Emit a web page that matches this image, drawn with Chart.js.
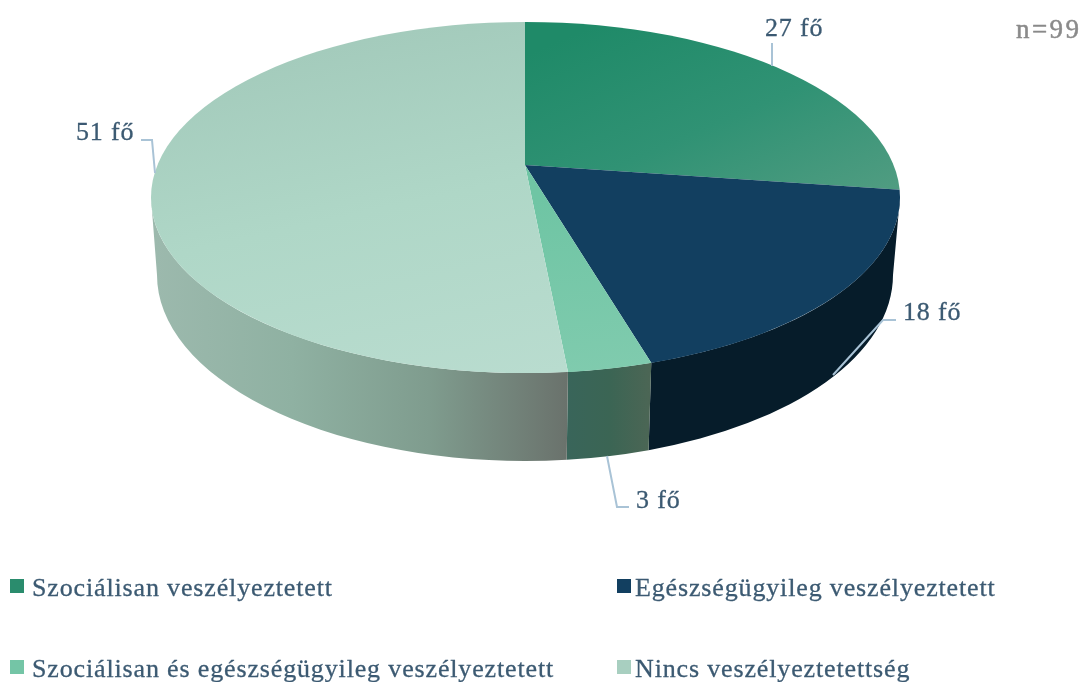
<!DOCTYPE html>
<html><head><meta charset="utf-8">
<style>html,body{margin:0;padding:0;background:#fff}canvas{display:block}</style>
<script src="https://cdn.jsdelivr.net/npm/chart.js@4"></script>
</head><body><canvas id="c" width="1084" height="682"></canvas>
<script>
const categories = ["Szociálisan veszélyeztetett","Egészségügyileg veszélyeztetett","Szociálisan és egészségügyileg veszélyeztetett","Nincs veszélyeztetettség"];
const values = [27,18,3,51];
const unit = "fő";
const sampleNote = "n=99";
const legendColors = ["#2a8c6d","#123f60","#74c5a6","#a8cfc0"];

// geometry of the tilted pie
const KX = 3.2, KY = KX*0.46;
const TOP = {x:525.5,y:197.5,rx:374.5,ry:175.5};
const BOT = {x:525,y:275,rx:368,ry:186};
const TEXT = "#3c5a72";
const FONT = '26px "Liberation Serif"';
const labelPos = [[765,36],[903,320],[636,508],[76,140]];
const leaders = [[[772,43],[772,66]],[[833,375],[883,320],[896,320]],[[607,456],[617,507],[629,507]],[[141,140],[152,140],[155,173]]];
const legendPos = [[10,579],[617,579],[10,660],[617,660]];
const APEX = {x:525,y:165};

function grad(chart,x0,y0,x1,y1,stops){
  const f=p=>[APEX.x+(p[0]-APEX.x)/KX,APEX.y+(p[1]-APEX.y)/KY];
  const a=f([x0,y0]),b=f([x1,y1]);
  const g=chart.ctx.createLinearGradient(a[0],a[1],b[0],b[1]);
  stops.forEach((c,i)=>g.addColorStop(i/(stops.length-1),c));
  return g;
}
const faceFills=[
  c=>grad(c,560,40,890,200,["#1f8a68","#309274","#529d82"]),
  c=>"#123f60",
  c=>grad(c,540,200,640,370,["#6fc5a4","#80cbae"]),
  c=>grad(c,230,40,570,370,["#a2c9ba","#afd7c7","#b9dccf"])
];
function wallFill(ctx,i){
  if(i===1) return "#061c2a";
  const mk=(x0,x1,st)=>{const g=ctx.createLinearGradient(x0,0,x1,0);st.forEach((c,k)=>g.addColorStop(k/(st.length-1),c));return g;};
  if(i===2) return mk(567,651,["#39655a","#3b6554","#4c6655"]);
  return mk(155,567,["#9cb9ad","#8fb1a2","#7f9c8e","#6a726c"]);
}
function theta(a,el){
  const dx=Math.cos(a)*KX, dy=Math.sin(a)*KY, ox=(el.x-TOP.x)/TOP.rx, oy=(el.y-TOP.y)/TOP.ry;
  const ax=dx/TOP.rx, ay=dy/TOP.ry;
  const A=ax*ax+ay*ay, B=2*(ox*ax+oy*ay), C=ox*ox+oy*oy-1;
  const t=(-B+Math.sqrt(B*B-4*A*C))/(2*A);
  return Math.atan2(oy+ay*t,ox+ax*t);
}
function putText(ctx,s,x,y,w){
  ctx.fillText(s,x,y);
  ctx.lineWidth=w;ctx.strokeStyle=ctx.fillStyle;ctx.strokeText(s,x,y);
}
const pie3d={
  id:"pie3d",
  beforeDatasetsDraw(chart){
    const ctx=chart.ctx, arcs=chart.getDatasetMeta(0).data;
    arcs.forEach((el,i)=>{
      let t0=theta(el.startAngle,el), t1=theta(el.endAngle,el);
      if(t1<t0) t1+=2*Math.PI;
      const s=Math.max(t0,0), e=Math.min(t1,Math.PI);
      if(s>=e) return;
      ctx.beginPath();
      ctx.ellipse(TOP.x,TOP.y,TOP.rx,TOP.ry,0,s,e,false);
      ctx.ellipse(BOT.x,BOT.y,BOT.rx,BOT.ry,0,e,s,true);
      ctx.closePath();
      ctx.fillStyle=wallFill(ctx,i);
      ctx.fill();
    });
    ctx.save();
    ctx.beginPath();
    ctx.ellipse(TOP.x,TOP.y,TOP.rx,TOP.ry,0,0,Math.PI*2);
    ctx.clip();
    const el=arcs[0];
    ctx.translate(el.x,el.y);ctx.scale(KX,KY);ctx.translate(-el.x,-el.y);
  },
  afterDatasetsDraw(chart){
    const ctx=chart.ctx;
    ctx.restore();
    ctx.strokeStyle="#a9c3d6";ctx.lineWidth=2;ctx.lineJoin="miter";
    leaders.forEach(l=>{ctx.beginPath();l.forEach((p,i)=>i?ctx.lineTo(p[0],p[1]):ctx.moveTo(p[0],p[1]));ctx.stroke();});
    ctx.textBaseline="alphabetic";ctx.textAlign="left";ctx.lineJoin="round";
    ctx.font=FONT;ctx.letterSpacing="0.85px";ctx.fillStyle=TEXT;
    values.forEach((v,i)=>putText(ctx,v+" "+unit,labelPos[i][0],labelPos[i][1],0.3));
    categories.forEach((c,i)=>{
      const p=legendPos[i];
      ctx.fillStyle=legendColors[i];ctx.fillRect(p[0],p[1],14,14);
      ctx.fillStyle=TEXT;putText(ctx,c,p[0]+(i%2?18:22),p[1]+17,0.3);
    });
    ctx.fillStyle="#8a8a8a";ctx.font='27px "Liberation Serif"';ctx.letterSpacing="2.4px";
    putText(ctx,sampleNote,1016,38,0.5);
    ctx.letterSpacing="0px";
  }
};
new Chart(document.getElementById("c"),{
  type:"pie",
  data:{labels:categories,datasets:[{data:values,clip:false,borderWidth:0,hoverOffset:0,
    backgroundColor:ctx=>faceFills[ctx.dataIndex](ctx.chart)}]},
  options:{responsive:false,animation:false,
    layout:{padding:{top:0,left:0,right:34,bottom:352}},
    plugins:{legend:{display:false},tooltip:{enabled:false},title:{display:false}}},
  plugins:[pie3d]
});
</script></body></html>
